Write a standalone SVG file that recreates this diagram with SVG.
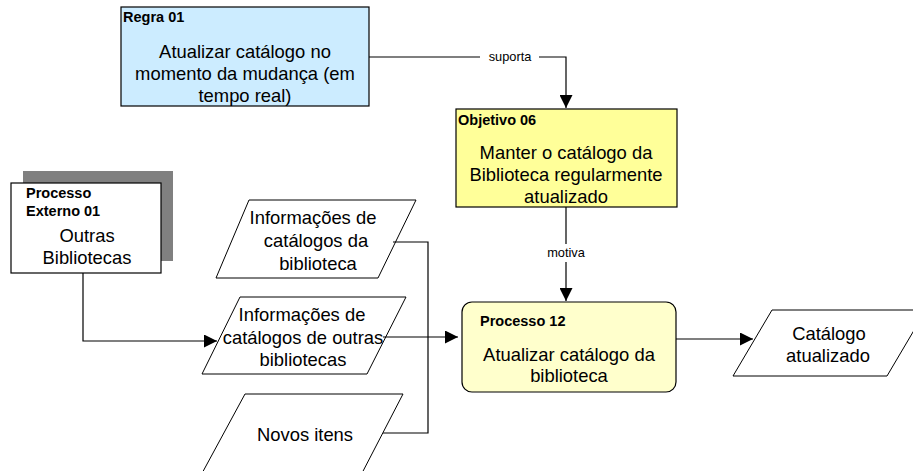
<svg xmlns="http://www.w3.org/2000/svg" width="913" height="471" viewBox="0 0 913 471">
  <style>
    .box { stroke: #000; stroke-width: 1.2; }
    .io { fill: #fff; stroke: #000; stroke-width: 1; }
    .title { font-family: "Liberation Sans", Arial, sans-serif; font-weight: bold; font-size: 14.5px; fill: #000; }
    .body { font-family: "Liberation Sans", Arial, sans-serif; font-size: 18.4px; fill: #000; text-anchor: middle; }
    .lbl { font-family: "Liberation Sans", Arial, sans-serif; font-size: 12.8px; fill: #000; text-anchor: middle; }
    .wire { fill: none; stroke: #000; stroke-width: 1.2; }
  </style>
  <defs>
    <marker id="arrow" markerWidth="13" markerHeight="13" refX="13" refY="6.5" orient="auto" markerUnits="userSpaceOnUse">
      <path d="M0,0 L13,6.5 L0,13 Z" fill="#000"/>
    </marker>
  </defs>
  <rect width="913" height="471" fill="#fff"/>

  <!-- Rule -->
  <g id="regra-01">
    <rect class="box" x="121" y="7" width="248" height="99" fill="#CCECFF"/>
    <text class="title" x="123" y="22">Regra 01</text>
    <text class="body" x="245" y="58">Atualizar catálogo no</text>
    <text class="body" x="245" y="80">momento da mudança (em</text>
    <text class="body" x="245" y="102">tempo real)</text>
  </g>

  <!-- Goal -->
  <g id="objetivo-06">
    <rect class="box" x="456" y="109" width="221" height="98" fill="#FFFF99"/>
    <text class="title" x="458" y="125">Objetivo 06</text>
    <text class="body" x="566" y="159">Manter o catálogo da</text>
    <text class="body" x="566" y="181">Biblioteca regularmente</text>
    <text class="body" x="566" y="203">atualizado</text>
  </g>

  <!-- External process with drop shadow -->
  <g id="processo-externo-01">
    <rect x="23" y="171" width="150" height="90" fill="#808080"/>
    <rect class="box" x="11" y="183" width="150" height="90" fill="#fff"/>
    <text class="title" x="26" y="198">Processo</text>
    <text class="title" x="26" y="216">Externo 01</text>
    <text class="body" x="87" y="242">Outras</text>
    <text class="body" x="87" y="264">Bibliotecas</text>
  </g>

  <!-- Inputs -->
  <g id="info-catalogos-biblioteca">
    <polygon class="io" points="249,200 416,200 378,278 216,278"/>
    <text class="body" x="313" y="224">Informações de</text>
    <text class="body" x="316" y="247">catálogos da</text>
    <text class="body" x="318" y="270">biblioteca</text>
  </g>

  <g id="info-catalogos-outras">
    <polygon class="io" points="240,297 406,297 367,374 202,374"/>
    <text class="body" x="302" y="321">Informações de</text>
    <text class="body" x="303" y="344">catálogos de outras</text>
    <text class="body" x="303" y="366">bibliotecas</text>
  </g>

  <g id="novos-itens">
    <polygon class="io" points="245,394 403,394 360,477 200,477"/>
    <text class="body" x="305" y="441">Novos itens</text>
  </g>

  <!-- Main process -->
  <g id="processo-12">
    <rect class="box" x="462" y="302" width="214" height="90" rx="10" ry="10" fill="#FFFFCC"/>
    <text class="title" x="480" y="326">Processo 12</text>
    <text class="body" x="569" y="361">Atualizar catálogo da</text>
    <text class="body" x="569" y="382">biblioteca</text>
  </g>

  <!-- Output -->
  <g id="catalogo-atualizado">
    <polygon class="io" points="772,310 926,310 887,376 733,376"/>
    <text class="body" x="829" y="340">Catálogo</text>
    <text class="body" x="828" y="362">atualizado</text>
  </g>

  <!-- Connectors -->
  <g id="connectors">
    <path class="wire" d="M369,57 H480 M539,57 H566 V108" marker-end="url(#arrow)"/>
    <text class="lbl" x="510" y="61">suporta</text>

    <path class="wire" d="M566,207 V244 M566,262 V301" marker-end="url(#arrow)"/>
    <text class="lbl" x="566" y="257">motiva</text>

    <path class="wire" d="M83,273 V341 H217" marker-end="url(#arrow)"/>

    <path class="wire" d="M393,242 H428 V433 H383"/>
    <path class="wire" d="M383,337 H458" marker-end="url(#arrow)"/>

    <path class="wire" d="M676,339 H753" marker-end="url(#arrow)"/>
  </g>
</svg>
